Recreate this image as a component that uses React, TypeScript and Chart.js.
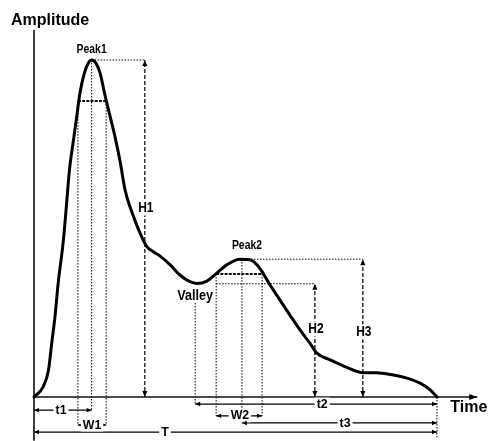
import React, { useEffect, useRef } from "react";
import { Chart, registerables } from "chart.js";

Chart.register(...registerables);

// ---- waveform (time in % of T, amplitude in % of Peak1) ----
const curveTime = [0, 2.3, 3.6, 4.4, 5.2, 6.0, 7.3, 8.1, 8.8, 9.8, 10.6, 11.4, 12.5, 13.5, 14.3, 15.4, 16.4, 17.6, 18.9, 20.1, 21.3, 22.6, 23.8, 25.3, 26.7, 28.0, 29.6, 31.3, 33.8, 36.2, 38.7, 40.4, 42.9, 45.3, 47.8, 51.1, 53.6, 55.7, 58.6, 61.0, 63.5, 66.0, 68.5, 70.2, 73.5, 77.6, 81.7, 85.0, 89.2, 92.5, 95.8, 98.3, 100];
const curveAmp = [0, 3.1, 8.0, 16.0, 23.8, 33.8, 46.6, 57.6, 67.4, 76.3, 83.2, 90.2, 96.1, 99.2, 100, 99.0, 96.1, 89.6, 83.2, 77.2, 70.3, 61.4, 56.5, 51.6, 47.6, 44.6, 43.1, 41.8, 39.2, 36.2, 34.2, 33.7, 34.4, 36.7, 39.2, 40.9, 40.7, 38.7, 33.2, 28.8, 24.3, 19.9, 15.9, 13.0, 11.0, 8.8, 7.2, 7.2, 6.5, 5.6, 4.1, 2.1, 0];

// ---- feature points ----
const featureNames = ["Peak1", "Valley", "Peak2"];
const featureTimes = [14.3, 40.0, 51.6];
const featureAmps = [100, 33.6, 40.9];

// ---- width levels (W1, W2) ----
const widthLevels = [87.8, 36.5];
const widthStarts = [10.9, 45.2];
const widthEnds = [17.9, 56.6];

// ---- heights (H1, H2, H3) ----
const heightNames = ["H1", "H2", "H3"];
const heightTimes = [27.5, 69.7, 81.6];
const heightAmps = [100, 33.6, 40.9];
const heightLabelAmps = [56.1, 20.2, 19.3];

// ---- time spans below the axis ----
const spanNames = ["t1", "W1", "T", "t2", "W2", "t3"];
const spanStarts = [0, 10.9, 0, 40.0, 45.2, 51.6];
const spanEnds = [14.3, 17.9, 100, 100, 56.6, 100];
const spanRows = [-3.9, -8.3, -10.4, -2.1, -5.6, -7.7];
const spanLabelTimes = [6.7, 14.4, 32.5, 71.5, 51.1, 77.2];

const timeAxisEnd = 110;
const ampAxisTop = 108.9;
const ampAxisBottom = -13;
const endMarkBottom = -12;
const valleyLineTop = 27.9;

const DOT = { color: "#000", w: 1, dash: [1.5, 1.5] };
const HDASH = { color: "#000", w: 1.2, dash: [4, 2] };
const WLINE = { color: "#111", w: 2, dash: [3, 1.2] };
const SOLID = { color: "#000", w: 1.2, dash: [] as number[] };
const AXIS = { color: "#111", w: 1.6, dash: [] as number[] };

function seg(x0: number, y0: number, x1: number, y1: number, s: any) {
  return {
    type: "scatter",
    data: [{ x: x0, y: y0 }, { x: x1, y: y1 }],
    showLine: true,
    pointRadius: 0,
    borderColor: s.color,
    borderWidth: s.w,
    borderDash: s.dash,
    tension: 0,
    fill: false,
    order: 2,
  };
}

function buildDatasets() {
  const ds: any[] = [];
  ds.push({
    type: "scatter",
    data: curveTime.map((t, i) => ({ x: t, y: curveAmp[i] })),
    showLine: true,
    pointRadius: 0,
    borderColor: "#000",
    borderWidth: 3,
    cubicInterpolationMode: "monotone",
    borderJoinStyle: "round",
    borderCapStyle: "round",
    fill: false,
    order: 0,
  });
  // axes
  ds.push(seg(0, 0, timeAxisEnd, 0, AXIS));
  ds.push(seg(0, ampAxisBottom, 0, ampAxisTop, AXIS));
  // peak / valley level guides
  ds.push(seg(featureTimes[0], featureAmps[0], heightTimes[0], heightAmps[0], DOT));
  ds.push(seg(featureTimes[2], featureAmps[2], heightTimes[2], heightAmps[2], DOT));
  ds.push(seg(widthStarts[1], heightAmps[1], heightTimes[1], heightAmps[1], DOT));
  // width lines
  for (let i = 0; i < widthLevels.length; i++) {
    ds.push(seg(widthStarts[i], widthLevels[i], widthEnds[i], widthLevels[i], WLINE));
  }
  // vertical drops
  ds.push(seg(featureTimes[0], featureAmps[0], featureTimes[0], spanRows[0], DOT));
  ds.push(seg(widthStarts[0], widthLevels[0], widthStarts[0], spanRows[1], DOT));
  ds.push(seg(widthEnds[0], widthLevels[0], widthEnds[0], spanRows[1], DOT));
  ds.push(seg(featureTimes[1], valleyLineTop, featureTimes[1], spanRows[3], DOT));
  ds.push(seg(widthStarts[1], widthLevels[1], widthStarts[1], spanRows[4], DOT));
  ds.push(seg(widthEnds[1], widthLevels[1], widthEnds[1], spanRows[4], DOT));
  ds.push(seg(featureTimes[2], featureAmps[2], featureTimes[2], spanRows[5], DOT));
  ds.push(seg(100, 0, 100, endMarkBottom, DOT));
  // heights
  for (let i = 0; i < heightNames.length; i++) {
    ds.push(seg(heightTimes[i], 0, heightTimes[i], heightAmps[i], HDASH));
  }
  // spans
  for (let i = 0; i < spanNames.length; i++) {
    ds.push(seg(spanStarts[i], spanRows[i], spanEnds[i], spanRows[i], SOLID));
  }
  return ds;
}

const FONT = '"Liberation Sans", Arial, Helvetica, sans-serif';

const annotPlugin = {
  id: "annot",
  afterDatasetsDraw(chart: any) {
    const { ctx, scales } = chart;
    const X = (v: number) => scales.x.getPixelForValue(v);
    const Y = (v: number) => scales.y.getPixelForValue(v);
    ctx.save();
    ctx.fillStyle = "#000";
    const head = (tx: number, ty: number, dx: number, dy: number, L = 6, H = 2.5) => {
      const bx = tx - dx * L, by = ty - dy * L;
      ctx.beginPath();
      ctx.moveTo(tx, ty);
      ctx.lineTo(bx - dy * H, by + dx * H);
      ctx.lineTo(bx + dy * H, by - dx * H);
      ctx.closePath();
      ctx.fillStyle = "#000";
      ctx.fill();
    };
    const label = (text: string, px: number, py: number, size: number, sx: number, bg: boolean) => {
      ctx.save();
      ctx.font = `bold ${size}px ${FONT}`;
      const w = ctx.measureText(text).width * sx;
      if (bg) {
        ctx.fillStyle = "#fff";
        ctx.fillRect(px - w / 2 - 2, py - size * 0.5, w + 4, size);
      }
      ctx.translate(px, py);
      ctx.scale(sx, 1);
      ctx.fillStyle = "#000";
      ctx.textAlign = "center";
      ctx.textBaseline = "middle";
      ctx.fillText(text, 0, 0);
      ctx.restore();
    };
    // time axis arrow
    head(X(timeAxisEnd), Y(0), 1, 0, 8, 3);
    // heights
    for (let i = 0; i < heightNames.length; i++) {
      const x = X(heightTimes[i]);
      head(x, Y(heightAmps[i]), 0, -1);
      head(x, Y(0), 0, 1);
      label(heightNames[i], x + 1, Y(heightLabelAmps[i]), 15, 0.8, true);
    }
    // spans
    for (let i = 0; i < spanNames.length; i++) {
      const y = Y(spanRows[i]);
      head(X(spanStarts[i]), y, -1, 0, 5, 2.2);
      head(X(spanEnds[i]), y, 1, 0, 5, 2.2);
      label(spanNames[i], X(spanLabelTimes[i]), y, 13, 0.95, true);
    }
    // features
    label(featureNames[0], X(featureTimes[0]), Y(featureAmps[0]) - 11, 13, 0.8, false);
    label(featureNames[1], X(featureTimes[1]), Y(featureAmps[1]) + 12, 14, 0.9, true);
    label(featureNames[2], X(featureTimes[2]) + 5, Y(featureAmps[2]) - 14, 13, 0.8, false);
    // axis titles
    label("Amplitude", X(4.0), Y(111.6), 16, 1, false);
    label("Time", X(107.9), Y(-3.0), 16, 1, false);
    ctx.restore();
  },
};

export default function App() {
  const ref = useRef<HTMLCanvasElement | null>(null);
  useEffect(() => {
    if (!ref.current) return;
    const chart = new Chart(ref.current, {
      type: "scatter",
      data: { datasets: buildDatasets() },
      options: {
        animation: false,
        responsive: false,
        maintainAspectRatio: false,
        layout: { padding: 0 },
        plugins: { legend: { display: false }, tooltip: { enabled: false } },
        scales: {
          x: { type: "linear", min: -8.44, max: 112.66, display: false },
          y: { type: "linear", min: -13.06, max: 117.8, display: false },
        },
      },
      plugins: [annotPlugin],
    } as any);
    return () => chart.destroy();
  }, []);
  return (
    <div style={{ position: "fixed", left: 0, top: 0, width: 488, height: 441, background: "#fff" }}>
      <canvas ref={ref} width={488} height={441} style={{ display: "block" }} />
    </div>
  );
}
